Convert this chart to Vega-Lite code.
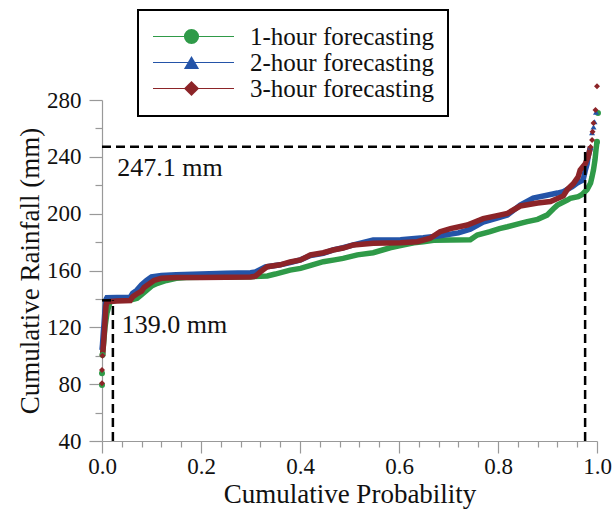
{
  "$schema": "https://vega.github.io/schema/vega-lite/v6.json",
  "width": 495,
  "height": 341,
  "autosize": "none",
  "padding": {"left": 102, "top": 100, "right": 19, "bottom": 72},
  "background": "white",
  "config": {
    "font": "Liberation Serif",
    "view": {"stroke": null},
    "axis": {
      "grid": false,
      "domainColor": "#999999",
      "domainWidth": 1.2,
      "tickColor": "#999999",
      "tickWidth": 1.2,
      "labelColor": "#111111",
      "titleColor": "#111111",
      "labelFont": "Liberation Serif",
      "titleFont": "Liberation Serif",
      "titleFontWeight": "normal",
      "labelFontSize": 23,
      "titleFontSize": 27
    }
  },
  "datasets": {
    "curves": [
      {"series": "1-hour forecasting", "prob": 0.000, "rain": 79.4},
      {"series": "1-hour forecasting", "prob": 0.000, "rain": 87.6},
      {"series": "1-hour forecasting", "prob": 0.001, "rain": 100.5},
      {"series": "1-hour forecasting", "prob": 0.002, "rain": 104},
      {"series": "1-hour forecasting", "prob": 0.003, "rain": 108},
      {"series": "1-hour forecasting", "prob": 0.004, "rain": 112},
      {"series": "1-hour forecasting", "prob": 0.005, "rain": 116},
      {"series": "1-hour forecasting", "prob": 0.006, "rain": 120},
      {"series": "1-hour forecasting", "prob": 0.008, "rain": 125},
      {"series": "1-hour forecasting", "prob": 0.010, "rain": 130},
      {"series": "1-hour forecasting", "prob": 0.013, "rain": 134},
      {"series": "1-hour forecasting", "prob": 0.016, "rain": 137.5},
      {"series": "1-hour forecasting", "prob": 0.020, "rain": 139},
      {"series": "1-hour forecasting", "prob": 0.040, "rain": 139},
      {"series": "1-hour forecasting", "prob": 0.057, "rain": 139.2},
      {"series": "1-hour forecasting", "prob": 0.065, "rain": 139.8},
      {"series": "1-hour forecasting", "prob": 0.071, "rain": 140.5},
      {"series": "1-hour forecasting", "prob": 0.080, "rain": 143},
      {"series": "1-hour forecasting", "prob": 0.090, "rain": 146},
      {"series": "1-hour forecasting", "prob": 0.100, "rain": 149},
      {"series": "1-hour forecasting", "prob": 0.112, "rain": 151},
      {"series": "1-hour forecasting", "prob": 0.130, "rain": 153},
      {"series": "1-hour forecasting", "prob": 0.150, "rain": 154.5},
      {"series": "1-hour forecasting", "prob": 0.170, "rain": 155},
      {"series": "1-hour forecasting", "prob": 0.200, "rain": 155.2},
      {"series": "1-hour forecasting", "prob": 0.250, "rain": 155.4},
      {"series": "1-hour forecasting", "prob": 0.300, "rain": 155.6},
      {"series": "1-hour forecasting", "prob": 0.334, "rain": 156.2},
      {"series": "1-hour forecasting", "prob": 0.350, "rain": 157.5},
      {"series": "1-hour forecasting", "prob": 0.380, "rain": 160.3},
      {"series": "1-hour forecasting", "prob": 0.401, "rain": 161.5},
      {"series": "1-hour forecasting", "prob": 0.420, "rain": 163.5},
      {"series": "1-hour forecasting", "prob": 0.447, "rain": 166.2},
      {"series": "1-hour forecasting", "prob": 0.470, "rain": 167.5},
      {"series": "1-hour forecasting", "prob": 0.487, "rain": 168.5},
      {"series": "1-hour forecasting", "prob": 0.516, "rain": 171},
      {"series": "1-hour forecasting", "prob": 0.548, "rain": 172.5},
      {"series": "1-hour forecasting", "prob": 0.582, "rain": 176},
      {"series": "1-hour forecasting", "prob": 0.603, "rain": 177.5},
      {"series": "1-hour forecasting", "prob": 0.630, "rain": 179.5},
      {"series": "1-hour forecasting", "prob": 0.649, "rain": 180.3},
      {"series": "1-hour forecasting", "prob": 0.670, "rain": 181.3},
      {"series": "1-hour forecasting", "prob": 0.704, "rain": 181.5},
      {"series": "1-hour forecasting", "prob": 0.744, "rain": 181.7},
      {"series": "1-hour forecasting", "prob": 0.758, "rain": 185},
      {"series": "1-hour forecasting", "prob": 0.784, "rain": 187.3},
      {"series": "1-hour forecasting", "prob": 0.803, "rain": 189.5},
      {"series": "1-hour forecasting", "prob": 0.819, "rain": 190.8},
      {"series": "1-hour forecasting", "prob": 0.845, "rain": 193.2},
      {"series": "1-hour forecasting", "prob": 0.859, "rain": 194.4},
      {"series": "1-hour forecasting", "prob": 0.880, "rain": 196},
      {"series": "1-hour forecasting", "prob": 0.899, "rain": 199},
      {"series": "1-hour forecasting", "prob": 0.912, "rain": 203.5},
      {"series": "1-hour forecasting", "prob": 0.920, "rain": 206},
      {"series": "1-hour forecasting", "prob": 0.940, "rain": 209.6},
      {"series": "1-hour forecasting", "prob": 0.946, "rain": 210.8},
      {"series": "1-hour forecasting", "prob": 0.962, "rain": 212},
      {"series": "1-hour forecasting", "prob": 0.970, "rain": 213.5},
      {"series": "1-hour forecasting", "prob": 0.980, "rain": 217},
      {"series": "1-hour forecasting", "prob": 0.987, "rain": 221.5},
      {"series": "1-hour forecasting", "prob": 0.990, "rain": 226},
      {"series": "1-hour forecasting", "prob": 0.993, "rain": 231},
      {"series": "1-hour forecasting", "prob": 0.996, "rain": 238},
      {"series": "1-hour forecasting", "prob": 0.998, "rain": 245},
      {"series": "1-hour forecasting", "prob": 1.000, "rain": 250.6},
      {"series": "1-hour forecasting", "prob": 1.002, "rain": 270.8},
      {"series": "2-hour forecasting", "prob": 0.000, "rain": 104},
      {"series": "2-hour forecasting", "prob": 0.001, "rain": 108},
      {"series": "2-hour forecasting", "prob": 0.002, "rain": 113},
      {"series": "2-hour forecasting", "prob": 0.003, "rain": 118},
      {"series": "2-hour forecasting", "prob": 0.004, "rain": 122},
      {"series": "2-hour forecasting", "prob": 0.005, "rain": 127},
      {"series": "2-hour forecasting", "prob": 0.006, "rain": 132},
      {"series": "2-hour forecasting", "prob": 0.007, "rain": 136},
      {"series": "2-hour forecasting", "prob": 0.008, "rain": 139.5},
      {"series": "2-hour forecasting", "prob": 0.010, "rain": 140.9},
      {"series": "2-hour forecasting", "prob": 0.030, "rain": 141},
      {"series": "2-hour forecasting", "prob": 0.057, "rain": 141.2},
      {"series": "2-hour forecasting", "prob": 0.062, "rain": 144},
      {"series": "2-hour forecasting", "prob": 0.070, "rain": 146},
      {"series": "2-hour forecasting", "prob": 0.080, "rain": 150},
      {"series": "2-hour forecasting", "prob": 0.090, "rain": 153},
      {"series": "2-hour forecasting", "prob": 0.100, "rain": 155.5},
      {"series": "2-hour forecasting", "prob": 0.120, "rain": 156.5},
      {"series": "2-hour forecasting", "prob": 0.150, "rain": 157},
      {"series": "2-hour forecasting", "prob": 0.200, "rain": 157.5},
      {"series": "2-hour forecasting", "prob": 0.250, "rain": 158},
      {"series": "2-hour forecasting", "prob": 0.300, "rain": 158.5},
      {"series": "2-hour forecasting", "prob": 0.310, "rain": 159},
      {"series": "2-hour forecasting", "prob": 0.330, "rain": 162.5},
      {"series": "2-hour forecasting", "prob": 0.360, "rain": 164},
      {"series": "2-hour forecasting", "prob": 0.380, "rain": 165.5},
      {"series": "2-hour forecasting", "prob": 0.401, "rain": 167.5},
      {"series": "2-hour forecasting", "prob": 0.421, "rain": 170.5},
      {"series": "2-hour forecasting", "prob": 0.447, "rain": 172},
      {"series": "2-hour forecasting", "prob": 0.467, "rain": 174.5},
      {"series": "2-hour forecasting", "prob": 0.487, "rain": 176},
      {"series": "2-hour forecasting", "prob": 0.508, "rain": 178},
      {"series": "2-hour forecasting", "prob": 0.548, "rain": 181.5},
      {"series": "2-hour forecasting", "prob": 0.603, "rain": 181.7},
      {"series": "2-hour forecasting", "prob": 0.649, "rain": 183},
      {"series": "2-hour forecasting", "prob": 0.683, "rain": 184.5},
      {"series": "2-hour forecasting", "prob": 0.720, "rain": 186.5},
      {"series": "2-hour forecasting", "prob": 0.744, "rain": 189},
      {"series": "2-hour forecasting", "prob": 0.770, "rain": 194},
      {"series": "2-hour forecasting", "prob": 0.800, "rain": 197},
      {"series": "2-hour forecasting", "prob": 0.819, "rain": 199},
      {"series": "2-hour forecasting", "prob": 0.845, "rain": 206},
      {"series": "2-hour forecasting", "prob": 0.871, "rain": 211},
      {"series": "2-hour forecasting", "prob": 0.899, "rain": 213},
      {"series": "2-hour forecasting", "prob": 0.920, "rain": 214.5},
      {"series": "2-hour forecasting", "prob": 0.932, "rain": 215.5},
      {"series": "2-hour forecasting", "prob": 0.950, "rain": 219},
      {"series": "2-hour forecasting", "prob": 0.960, "rain": 221.6},
      {"series": "2-hour forecasting", "prob": 0.972, "rain": 223.7},
      {"series": "2-hour forecasting", "prob": 0.976, "rain": 230},
      {"series": "2-hour forecasting", "prob": 0.980, "rain": 235},
      {"series": "2-hour forecasting", "prob": 0.982, "rain": 240},
      {"series": "2-hour forecasting", "prob": 0.987, "rain": 247},
      {"series": "2-hour forecasting", "prob": 0.990, "rain": 257},
      {"series": "2-hour forecasting", "prob": 0.993, "rain": 261},
      {"series": "2-hour forecasting", "prob": 0.995, "rain": 264.7},
      {"series": "2-hour forecasting", "prob": 0.998, "rain": 271.5},
      {"series": "3-hour forecasting", "prob": 0.000, "rain": 80.6},
      {"series": "3-hour forecasting", "prob": 0.000, "rain": 90},
      {"series": "3-hour forecasting", "prob": 0.001, "rain": 100},
      {"series": "3-hour forecasting", "prob": 0.002, "rain": 104},
      {"series": "3-hour forecasting", "prob": 0.003, "rain": 108},
      {"series": "3-hour forecasting", "prob": 0.004, "rain": 113},
      {"series": "3-hour forecasting", "prob": 0.005, "rain": 118},
      {"series": "3-hour forecasting", "prob": 0.006, "rain": 124},
      {"series": "3-hour forecasting", "prob": 0.007, "rain": 130},
      {"series": "3-hour forecasting", "prob": 0.008, "rain": 135},
      {"series": "3-hour forecasting", "prob": 0.010, "rain": 138},
      {"series": "3-hour forecasting", "prob": 0.030, "rain": 138.5},
      {"series": "3-hour forecasting", "prob": 0.057, "rain": 138.8},
      {"series": "3-hour forecasting", "prob": 0.062, "rain": 141.5},
      {"series": "3-hour forecasting", "prob": 0.070, "rain": 143.5},
      {"series": "3-hour forecasting", "prob": 0.080, "rain": 145.5},
      {"series": "3-hour forecasting", "prob": 0.085, "rain": 148},
      {"series": "3-hour forecasting", "prob": 0.095, "rain": 150.5},
      {"series": "3-hour forecasting", "prob": 0.105, "rain": 153},
      {"series": "3-hour forecasting", "prob": 0.120, "rain": 154.5},
      {"series": "3-hour forecasting", "prob": 0.150, "rain": 155},
      {"series": "3-hour forecasting", "prob": 0.200, "rain": 155},
      {"series": "3-hour forecasting", "prob": 0.250, "rain": 155.3},
      {"series": "3-hour forecasting", "prob": 0.300, "rain": 155.5},
      {"series": "3-hour forecasting", "prob": 0.310, "rain": 156},
      {"series": "3-hour forecasting", "prob": 0.320, "rain": 159},
      {"series": "3-hour forecasting", "prob": 0.334, "rain": 162.7},
      {"series": "3-hour forecasting", "prob": 0.360, "rain": 164},
      {"series": "3-hour forecasting", "prob": 0.380, "rain": 166},
      {"series": "3-hour forecasting", "prob": 0.401, "rain": 167.4},
      {"series": "3-hour forecasting", "prob": 0.421, "rain": 170.9},
      {"series": "3-hour forecasting", "prob": 0.447, "rain": 172.5},
      {"series": "3-hour forecasting", "prob": 0.467, "rain": 174.4},
      {"series": "3-hour forecasting", "prob": 0.487, "rain": 175.8},
      {"series": "3-hour forecasting", "prob": 0.508, "rain": 178},
      {"series": "3-hour forecasting", "prob": 0.548, "rain": 179.1},
      {"series": "3-hour forecasting", "prob": 0.603, "rain": 179.6},
      {"series": "3-hour forecasting", "prob": 0.637, "rain": 180.3},
      {"series": "3-hour forecasting", "prob": 0.663, "rain": 182.7},
      {"series": "3-hour forecasting", "prob": 0.683, "rain": 187.3},
      {"series": "3-hour forecasting", "prob": 0.704, "rain": 189.5},
      {"series": "3-hour forecasting", "prob": 0.738, "rain": 192},
      {"series": "3-hour forecasting", "prob": 0.770, "rain": 196.5},
      {"series": "3-hour forecasting", "prob": 0.803, "rain": 199},
      {"series": "3-hour forecasting", "prob": 0.819, "rain": 200.2},
      {"series": "3-hour forecasting", "prob": 0.845, "rain": 205.4},
      {"series": "3-hour forecasting", "prob": 0.880, "rain": 207.5},
      {"series": "3-hour forecasting", "prob": 0.906, "rain": 208.6},
      {"series": "3-hour forecasting", "prob": 0.932, "rain": 212.5},
      {"series": "3-hour forecasting", "prob": 0.940, "rain": 217},
      {"series": "3-hour forecasting", "prob": 0.952, "rain": 221},
      {"series": "3-hour forecasting", "prob": 0.962, "rain": 226},
      {"series": "3-hour forecasting", "prob": 0.966, "rain": 230.7},
      {"series": "3-hour forecasting", "prob": 0.976, "rain": 235},
      {"series": "3-hour forecasting", "prob": 0.982, "rain": 240},
      {"series": "3-hour forecasting", "prob": 0.987, "rain": 247},
      {"series": "3-hour forecasting", "prob": 0.990, "rain": 251.8},
      {"series": "3-hour forecasting", "prob": 0.991, "rain": 257.7},
      {"series": "3-hour forecasting", "prob": 0.993, "rain": 263.8},
      {"series": "3-hour forecasting", "prob": 0.997, "rain": 273},
      {"series": "3-hour forecasting", "prob": 1.000, "rain": 289.7}
    ],
    "refs": [
      {"x0": 0, "x1": 0.976, "y0": 247.1, "y1": 247.1},
      {"x0": 0.976, "x1": 0.976, "y0": 40, "y1": 247.1},
      {"x0": 0, "x1": 0.022, "y0": 139.0, "y1": 139.0},
      {"x0": 0.022, "x1": 0.022, "y0": 40, "y1": 139.0}
    ],
    "notes": [
      {"px": 0.031, "py": 226.5, "label": "247.1 mm"},
      {"px": 0.040, "py": 116.0, "label": "139.0 mm"}
    ]
  },
  "resolve": {"axis": {"x": "independent", "y": "independent"}},
  "layer": [
    {
      "data": {"name": "curves"},
      "transform": [{"filter": "datum.rain >= 100 && datum.rain <= 251"}],
      "mark": {"type": "line", "strokeWidth": 5.5, "clip": false},
      "encoding": {
        "x": {
          "field": "prob", "type": "quantitative",
          "scale": {"domain": [0, 1], "nice": false, "zero": false},
          "axis": {
            "title": "Cumulative Probability",
            "orient": "bottom",
            "values": [0, 0.2, 0.4, 0.6, 0.8, 1.0],
            "format": ".1f",
            "tickSize": 12,
            "labelPadding": 2,
            "labelFlush": false,
            "labelOverlap": false,
            "titlePadding": 3
          }
        },
        "y": {
          "field": "rain", "type": "quantitative",
          "scale": {"domain": [40, 280], "nice": false, "zero": false},
          "axis": {
            "title": "Cumulative Rainfall (mm)",
            "orient": "left",
            "values": [40, 80, 120, 160, 200, 240, 280],
            "tickSize": 13,
            "labelPadding": 8,
            "labelOverlap": false,
            "titlePadding": 2
          }
        },
        "color": {
          "field": "series", "type": "nominal",
          "scale": {
            "domain": ["1-hour forecasting", "2-hour forecasting", "3-hour forecasting"],
            "range": ["#2f9a48", "#2454a8", "#8c2428"]
          },
          "legend": {
            "title": null,
            "orient": "none",
            "legendX": 36,
            "legendY": -90,
            "symbolType": "stroke",
            "symbolSize": 6561,
            "symbolStrokeWidth": 1.2,
            "labelFontSize": 25,
            "labelFont": "Liberation Serif",
            "labelColor": "#111111",
            "labelLimit": 400,
            "labelOffset": 15,
            "clipHeight": 25,
            "rowPadding": 0,
            "padding": 14,
            "strokeColor": "black",
            "encode": {"legend": {"update": {"strokeWidth": {"value": 2}}}}
          }
        }
      }
    },
    {
      "data": {"name": "curves"},
      "transform": [{"filter": "datum.rain < 101 || datum.rain > 246"}],
      "mark": {"type": "point", "filled": true, "size": 36, "opacity": 1, "strokeWidth": 0, "clip": false},
      "encoding": {
        "x": {
          "field": "prob", "type": "quantitative",
          "axis": {
            "orient": "bottom",
            "title": null,
            "values": [0.04, 0.08, 0.12, 0.16, 0.24, 0.28, 0.32, 0.36, 0.44, 0.48, 0.52, 0.56, 0.64, 0.68, 0.72, 0.76, 0.84, 0.88, 0.92, 0.96],
            "labels": false,
            "domain": false,
            "tickSize": 6
          }
        },
        "y": {
          "field": "rain", "type": "quantitative",
          "axis": {
            "orient": "left",
            "title": null,
            "values": [60, 100, 140, 180, 220, 260],
            "labels": false,
            "domain": false,
            "tickSize": 7
          }
        },
        "fill": {
          "field": "series", "type": "nominal",
          "scale": {"range": ["#2f9a48", "#2454a8", "#8c2428"]},
          "legend": {
            "title": null,
            "orient": "none",
            "legendX": 63,
            "legendY": -90,
            "symbolSize": 230,
            "symbolStrokeWidth": 0,
            "labelFontSize": 25,
            "labelExpr": "''",
            "clipHeight": 25,
            "rowPadding": 0,
            "padding": 14
          }
        },
        "shape": {
          "field": "series", "type": "nominal",
          "scale": {"range": ["circle", "triangle-up", "diamond"]},
          "legend": {
            "title": null,
            "orient": "none",
            "legendX": 63,
            "legendY": -90,
            "symbolSize": 230,
            "symbolStrokeWidth": 0,
            "labelFontSize": 25,
            "labelExpr": "''",
            "clipHeight": 25,
            "rowPadding": 0,
            "padding": 14
          }
        }
      }
    },
    {
      "data": {"name": "refs"},
      "mark": {"type": "rule", "strokeDash": [9, 5], "strokeWidth": 2.5, "color": "black"},
      "encoding": {
        "x": {"field": "x0", "type": "quantitative", "axis": null},
        "x2": {"field": "x1"},
        "y": {"field": "y0", "type": "quantitative", "axis": null},
        "y2": {"field": "y1"}
      }
    },
    {
      "data": {"name": "notes"},
      "mark": {"type": "text", "align": "left", "baseline": "alphabetic", "fontSize": 26, "font": "Liberation Serif", "color": "#111111"},
      "encoding": {
        "x": {"field": "px", "type": "quantitative", "axis": null},
        "y": {"field": "py", "type": "quantitative", "axis": null},
        "text": {"field": "label"}
      }
    }
  ]
}
